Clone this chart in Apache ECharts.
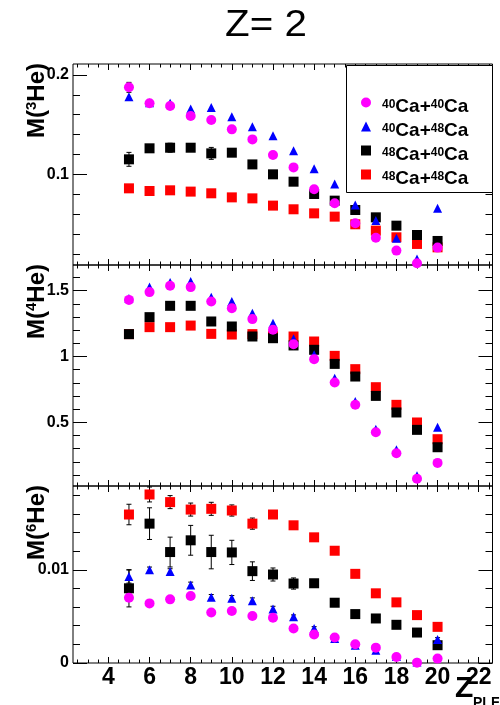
<!DOCTYPE html>
<html>
<head>
<meta charset="utf-8">
<script src="https://cdn.jsdelivr.net/npm/echarts@6/dist/echarts.min.js"></script>
<style>html,body{margin:0;padding:0;background:#fff;}#c{width:500px;height:705px;}</style>
</head>
<body>
<div id="c"></div>
<script>
// ---------- data ----------
const zValues = [5,6,7,8,9,10,11,12,13,14,15,16,17,18,19,20];
const reactionNames = ['40Ca+40Ca','40Ca+48Ca','48Ca+40Ca','48Ca+48Ca'];

const he3Ca40Ca40 = [0.1876,0.1715,0.1688,0.1587,0.1547,0.1453,0.1352,0.1195,0.107,0.0849,0.0708,0.0507,0.0362,0.0232,0.0104,0.0262];
const he3Ca40Ca48 = [0.1782,0.172,0.1715,0.1658,0.1674,0.158,0.148,0.1389,0.1238,0.1057,0.0903,0.0691,0.0534,0.0356,0.0148,0.0658];
const he3Ca48Ca40 = [0.1151,0.1262,0.1268,0.1268,0.1211,0.1218,0.110,0.100,0.0926,0.0802,0.0735,0.0641,0.0567,0.0483,0.0389,0.0329];
const he3Ca48Ca48 = [0.0859,0.0832,0.0839,0.0826,0.0809,0.0768,0.0758,0.0685,0.0648,0.0607,0.0574,0.0497,0.0433,0.0366,0.0299,0.0265];
const he3Ca40Ca40Err = [0.005,0.002,0.002,0.002,0.002,0.002,0.002,0.002,0.002,0.002,0.002,0.002,0.002,0.002,0.002,0.002];
const he3Ca48Ca40Err = [0.007,0.003,0.0045,0.003,0.006,0.003,0.002,0.002,0.002,0.002,0.002,0.002,0.002,0.002,0.002,0.002];

const he4Ca40Ca40 = [1.43,1.489,1.537,1.527,1.418,1.367,1.284,1.203,1.094,0.98,0.803,0.633,0.425,0.266,0.071,0.192];
const he4Ca40Ca48 = [1.44,1.527,1.562,1.57,1.45,1.418,1.329,1.253,1.134,1.013,0.835,0.658,0.448,0.291,0.094,0.463];
const he4Ca48Ca40 = [1.17,1.299,1.385,1.385,1.266,1.228,1.152,1.139,1.084,1.051,0.944,0.848,0.701,0.575,0.443,0.311];
const he4Ca48Ca48 = [1.17,1.223,1.223,1.235,1.172,1.167,1.17,1.157,1.152,1.114,1.005,0.904,0.767,0.633,0.499,0.372];

const he6Ca40Ca40 = [0.00701,0.0064,0.00683,0.00719,0.00543,0.00558,0.00504,0.00486,0.0037,0.00306,0.00273,0.00201,0.00165,0.00065,0.00004,0.00047];
const he6Ca40Ca48 = [0.00928,0.0100,0.00982,0.00838,0.00705,0.00694,0.00669,0.00579,0.00496,0.0037,0.00263,0.00191,0.00137,0.0007,0.0001,0.00252];
const he6Ca48Ca40 = [0.00802,0.01496,0.01191,0.01317,0.01191,0.01187,0.00986,0.0095,0.00853,0.00856,0.00647,0.00525,0.00478,0.0041,0.00327,0.00191];
const he6Ca48Ca48 = [0.01594,0.01809,0.01727,0.01647,0.01655,0.01637,0.01496,0.01594,0.01478,0.01349,0.01205,0.00957,0.00748,0.00651,0.00514,0.00388];
const he6Ca40Ca40Err = [0.0004,0.0003,0.0003,0.0003,0.0003,0.0003,0.0003,0.0003,0.0002,0.0002,0.0002,0.0002,0.0002,0.0002,0.0002,0.0002];
const he6Ca40Ca48Err = [0.0007,0.0003,0.0003,0.0003,0.0003,0.0003,0.0003,0.0003,0.0002,0.0002,0.0002,0.0002,0.0002,0.0002,0.0002,0.0002];
const he6Ca48Ca40Err = [0.002,0.0017,0.0016,0.0016,0.0018,0.0013,0.001,0.0007,0.0006,0.0004,0.0003,0.0003,0.0002,0.0002,0.0002,0.0002];
const he6Ca48Ca48Err = [0.0011,0.0008,0.0007,0.0007,0.0007,0.0006,0.0006,0.0004,0.0003,0.0003,0.0003,0.0002,0.0002,0.0002,0.0002,0.0002];

// tick labels / tick positions
const zTickLabels = [4,6,8,10,12,14,16,18,20,22];
const zMinorTicks = [2.5,3,3.5,4.5,5,5.5,6.5,7,7.5,8.5,9,9.5,10.5,11,11.5,12.5,13,13.5,14.5,15,15.5,16.5,17,17.5,18.5,19,19.5,20.5,21,21.5,22.5];
const he3TickLabels = [0.1,0.2];
const he3MinorTicks = [0.02,0.04,0.06,0.08,0.12,0.14,0.16,0.18];
const he4TickLabels = [0.5,1,1.5];
const he4MinorTicks = [0.1,0.2,0.3,0.4,0.6,0.7,0.8,0.9,1.1,1.2,1.3,1.4,1.6];
const he6TickLabels = [0,0.01];
const he6MinorTicks = [0.002,0.004,0.006,0.008,0.012,0.014,0.016,0.018];

// ---------- layout ----------
const FONT = 'Liberation Sans';
const colors = ['#ff00ff','#0000ff','#000000','#ff0000'];
const symbols = ['circle','triangle','rect','rect'];
const symSizes = [10,9,10,10];
const xRange = [2.28, 22.67];
const panels = [
  {top:64, height:201, yMin:0.0087, yMax:0.2111, major:he3TickLabels, minor:he3MinorTicks,
   vals:[he3Ca40Ca40,he3Ca40Ca48,he3Ca48Ca40,he3Ca48Ca48], errs:[he3Ca40Ca40Err,null,he3Ca48Ca40Err,null], sup:'3'},
  {top:265, height:221, yMin:0.0166, yMax:1.695, major:he4TickLabels, minor:he4MinorTicks,
   vals:[he4Ca40Ca40,he4Ca40Ca48,he4Ca48Ca40,he4Ca48Ca48], errs:[null,null,null,null], sup:'4'},
  {top:486, height:177, yMin:0, yMax:0.019, major:he6TickLabels, minor:he6MinorTicks,
   vals:[he6Ca40Ca40,he6Ca40Ca48,he6Ca48Ca40,he6Ca48Ca48], errs:[he6Ca40Ca40Err,he6Ca40Ca48Err,he6Ca48Ca40Err,he6Ca48Ca48Err], sup:'6'}
];
const gridLeft = 73, gridRight = 492.5;

const grids = [], xAxes = [], yAxes = [], series = [], graphics = [];

function tickAxis(base, pos, vals, len, labels, labelStyle) {
  return Object.assign({}, base, {
    position: pos,
    axisLine: {show:false, onZero:false},
    splitLine: {show:false},
    axisTick: {show:true, inside:true, length:len, customValues: vals, lineStyle:{color:'#000', width:1}},
    axisLabel: labels ? Object.assign({show:true, customValues: vals}, labelStyle) : {show:false}
  });
}

panels.forEach((p, g) => {
  grids.push({left:gridLeft, top:p.top, width:gridRight-gridLeft, height:p.height,
    show:true, borderColor:'#000', borderWidth:1, backgroundColor:'transparent'});
  const xb = {type:'value', gridIndex:g, min:xRange[0], max:xRange[1]};
  const isBottom = g === panels.length - 1;
  xAxes.push(tickAxis(xb, 'bottom', zTickLabels, 6, isBottom,
    {fontSize:23, fontWeight:'bold', fontFamily:FONT, color:'#000', margin:3}));
  xAxes.push(tickAxis(xb, 'bottom', zMinorTicks, 3.5, false));
  xAxes.push(tickAxis(xb, 'top', zTickLabels, 6, false));
  xAxes.push(tickAxis(xb, 'top', zMinorTicks, 3.5, false));
  const yb = {type:'value', gridIndex:g, min:p.yMin, max:p.yMax};
  yAxes.push(tickAxis(yb, 'left', p.major, 14, true,
    {fontSize:16, fontWeight:'bold', fontFamily:FONT, color:'#000', margin:4}));
  yAxes.push(tickAxis(yb, 'left', p.minor, 7, false));
  yAxes.push(tickAxis(yb, 'right', p.major, 14, false));
  yAxes.push(tickAxis(yb, 'right', p.minor, 7, false));

  // error bars
  p.errs.forEach((e, k) => {
    if (!e) return;
    const v = p.vals[k];
    series.push({
      type:'custom', xAxisIndex:4*g, yAxisIndex:4*g, z:1, silent:true,
      data: zValues.map((z, i) => [z, v[i], e[i]]),
      renderItem: (params, api) => {
        const x = api.value(0), y = api.value(1), er = api.value(2);
        const a = api.coord([x, y - er]), b = api.coord([x, y + er]);
        const c = 2.5, st = {stroke:'#000', lineWidth:1};
        return {type:'group', children:[
          {type:'line', shape:{x1:a[0], y1:a[1], x2:b[0], y2:b[1]}, style:st},
          {type:'line', shape:{x1:a[0]-c, y1:a[1], x2:a[0]+c, y2:a[1]}, style:st},
          {type:'line', shape:{x1:b[0]-c, y1:b[1], x2:b[0]+c, y2:b[1]}, style:st}
        ]};
      }
    });
  });
  // markers: draw order red, black, blue, pink
  [3,2,1,0].forEach(k => {
    series.push({
      type:'scatter', name:reactionNames[k], xAxisIndex:4*g, yAxisIndex:4*g, z:3,
      symbol:symbols[k], symbolSize:symSizes[k],
      itemStyle:{color:colors[k], opacity:1},
      data: zValues.map((z, i) => [z, p.vals[k][i]])
    });
  });
  // y-axis title
  graphics.push({
    type:'text', x:37, y:p.top - 1, rotation:Math.PI/2, z:50,
    style:{
      text:'{a|M(}{s|' + p.sup + '}{a|He)}',
      align:'right', verticalAlign:'middle',
      rich:{
        a:{fontSize:24, fontWeight:'bold', fontFamily:FONT, fill:'#000', lineHeight:26},
        s:{fontSize:15, fontWeight:'bold', fontFamily:FONT, fill:'#000', lineHeight:12, verticalAlign:'top'}
      }
    }
  });
});

// title and x title
graphics.push({type:'text', x:266, y:26, scaleX:1.12, z:50,
  style:{text:'Z= 2', fontSize:36, fontFamily:FONT, fill:'#000', align:'center', verticalAlign:'middle'}});
graphics.push({type:'text', x:455, y:689, z:50,
  style:{text:'Z', fontSize:30, fontWeight:'bold', fontFamily:FONT, fill:'#000', align:'left', verticalAlign:'middle'}});
graphics.push({type:'text', x:473, y:703, z:50,
  style:{text:'PLF', fontSize:14, fontWeight:'bold', fontFamily:FONT, fill:'#000', align:'left', verticalAlign:'middle'}});
// legend box
graphics.push({type:'rect', z:100, shape:{x:346.5, y:65.5, width:146, height:127},
  style:{fill:'#fff', stroke:'#000', lineWidth:1}});

const chart = echarts.init(document.getElementById('c'), null, {renderer:'canvas'});
chart.setOption({
  animation:false,
  backgroundColor:'#fff',
  grid:grids, xAxis:xAxes, yAxis:yAxes,
  legend:{
    data:reactionNames, orient:'vertical', left:361, top:89, padding:0, z:200,
    itemWidth:10, itemHeight:10, itemGap:-3,
    formatter: name => {
      const m = name.match(/(\d+)Ca\+(\d+)Ca/);
      return '{g| }{s|' + m[1] + '}{a|Ca+}{s|' + m[2] + '}{a|Ca}';
    },
    textStyle:{
      color:'#000',
      rich:{
        g:{width:6, fontSize:10},
        a:{fontSize:19, fontWeight:'bold', fontFamily:FONT, color:'#000', lineHeight:24, padding:[8,0,0,0]},
        s:{fontSize:12, fontWeight:'bold', fontFamily:FONT, color:'#000', lineHeight:10, padding:[8,0,0,0], verticalAlign:'top'}
      }
    }
  },
  graphic:{elements:graphics},
  series:series
});
</script>
</body>
</html>
